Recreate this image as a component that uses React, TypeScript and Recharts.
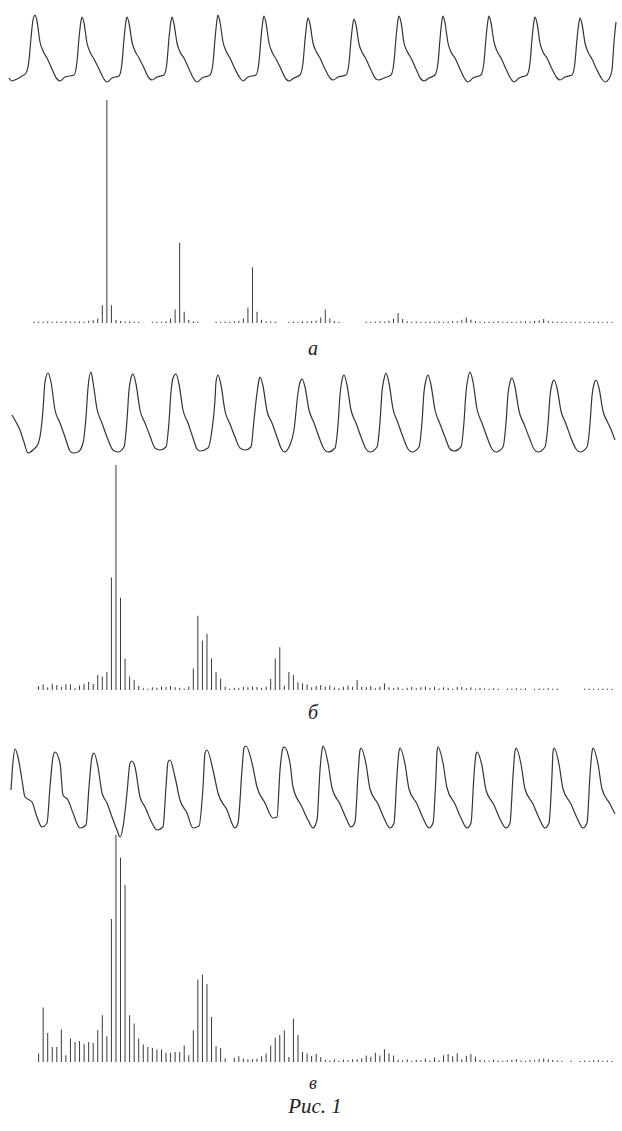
import React from "react";
import { LineChart, Line, BarChart, Bar, XAxis, YAxis } from "recharts";

// ---- Waveforms: [sample index, amplitude] ----
const waveA: [number, number][] = [
  [9,22],[12,19],[17,21],[22,24],[26,27],[29,40],[31,62],[33,80],
  [35,85],[37,79],[40,58],[43,49],[47,42],[52,31],[57,21],[60,19],[65,23],[74,25],[77,38],[79,62],[81,79],
  [82,83],[84,77],[87,57],[90,48],[94,41],[99,31],[104,21],[107,18],[112,22],[119,24],[122,37],[124,61],[126,79],
  [127,83],[129,77],[132,58],[135,49],[139,42],[144,32],[149,22],[152,20],[157,23],[164,25],[167,38],[169,62],[171,79],
  [172,83],[174,76],[177,57],[180,48],[184,42],[189,31],[194,21],[197,18],[202,22],[210,25],[213,37],[215,61],[217,80],
  [218,85],[220,78],[223,58],[226,49],[230,42],[235,31],[240,22],[243,19],[248,23],[256,25],[259,38],[261,62],[263,80],
  [264,84],[266,77],[269,57],[272,48],[276,41],[281,31],[286,21],[289,19],[294,22],[300,25],[303,37],[305,60],[307,78],
  [308,82],[310,76],[313,57],[316,49],[320,42],[325,31],[330,22],[333,20],[338,23],[346,25],[349,37],[351,60],[353,77],
  [354,81],[356,75],[359,56],[362,48],[366,41],[371,30],[376,21],[379,20],[384,22],[391,25],[394,38],[396,62],[398,80],
  [399,84],[401,78],[404,57],[407,49],[411,42],[416,31],[421,21],[424,19],[429,22],[435,25],[438,37],[440,61],[442,80],
  [443,84],[445,77],[448,57],[451,48],[455,42],[460,31],[465,21],[468,18],[473,22],[481,25],[484,38],[486,62],[488,80],
  [489,84],[491,77],[494,58],[497,49],[501,42],[506,31],[511,21],[514,18],[519,22],[527,25],[530,37],[532,61],[534,79],
  [535,83],[537,77],[540,57],[543,48],[547,42],[552,31],[557,22],[560,20],[565,23],[572,25],[575,38],[577,61],[579,78],
  [580,82],[582,76],[585,57],[588,48],[592,41],[597,30],[602,21],[605,18],[609,21],[612,30],[614,58],[616,78],
];

const waveB: [number, number][] = [
  [12,45],[16,38],[20,30],[24,18],[28,7],[33,10],[38,16],[41,30],[43,50],[45,78],
  [48,87],[51,78],[55,50],[60,37],[65,23],[70,9],[73,7],[78,8],[83,17],[86,43],[88,72],
  [91,88],[93,78],[97,51],[102,37],[107,23],[113,10],[118,8],[124,13],[127,40],[129,70],[131,82],
  [133,86],[136,76],[140,50],[145,37],[150,24],[155,12],[160,10],[166,13],[169,38],[171,68],[173,82],
  [176,86],[179,76],[183,50],[188,37],[193,22],[197,11],[200,9],[208,12],[212,30],[215,60],[216,78],
  [218,85],[221,75],[225,49],[230,36],[235,23],[240,12],[245,10],[251,13],[254,40],[257,67],[259,80],
  [260,83],[263,74],[267,49],[272,37],[277,23],[281,12],[284,8],[290,15],[294,30],[298,67],[300,78],
  [302,81],[305,73],[309,50],[314,37],[319,23],[324,11],[328,8],[335,12],[338,35],[340,65],[342,80],
  [344,85],[347,75],[351,50],[356,37],[361,23],[366,11],[370,8],[377,13],[380,38],[382,68],[384,81],
  [386,87],[389,77],[393,51],[398,37],[403,23],[408,11],[412,8],[419,13],[422,38],[424,68],[426,80],
  [428,85],[431,75],[435,50],[440,36],[445,23],[450,11],[454,9],[461,13],[464,38],[466,68],[468,82],
  [470,88],[473,78],[477,51],[482,37],[487,23],[492,11],[496,8],[503,13],[506,37],[508,66],[510,78],
  [512,82],[515,73],[519,49],[524,36],[529,23],[534,11],[538,8],[545,13],[548,36],[550,64],[552,76],
  [554,80],[557,72],[561,49],[566,36],[571,22],[576,11],[580,8],[587,13],[590,36],[592,64],[594,76],
  [596,80],[599,72],[603,49],[608,37],[612,28],[615,20],
];

const waveC: [number, number][] = [
  [11,50],[13,78],[15,91],[18,83],[22,60],[25,43],[32,38],[37,23],[42,13],[47,17],[50,53],[53,83],
  [55,88],[60,77],[63,45],[68,40],[73,27],[80,12],[86,15],[89,53],[92,83],
  [94,87],[98,73],[102,47],[107,37],[112,23],[117,10],[120,3],[123,13],[127,47],[130,77],
  [132,79],[135,73],[140,43],[145,33],[152,17],[157,10],[163,13],[166,53],[168,78],
  [170,80],[175,63],[180,40],[187,27],[193,12],[199,14],[203,53],[205,87],
  [207,90],[213,70],[218,47],[227,30],[235,12],[238,17],[242,70],[244,92],
  [246,94],[252,77],[257,53],[265,37],[273,22],[277,23],[280,70],[283,92],
  [284,93],[290,77],[293,53],[302,33],[308,20],[313,12],[317,20],[320,70],[322,90],
  [323,94],[328,77],[332,52],[340,36],[346,22],[351,13],[355,18],[358,65],[360,90],
  [361,92],[366,76],[370,51],[378,36],[384,22],[390,12],[394,17],[397,65],[399,89],
  [400,92],[405,76],[409,51],[417,36],[423,22],[429,12],[433,17],[436,65],[437,88],
  [438,93],[443,77],[447,52],[455,36],[461,22],[467,12],[471,17],[474,65],[476,86],
  [477,88],[482,74],[486,50],[494,35],[500,21],[506,12],[510,17],[513,64],[515,89],
  [516,92],[521,76],[525,51],[533,36],[539,22],[545,12],[549,17],[552,65],[553,88],
  [554,92],[559,76],[563,51],[571,36],[577,22],[583,12],[587,17],[590,65],[592,88],
  [593,92],[598,76],[602,51],[610,36],[615,26],
];

// ---- Spectra: relative amplitude per frequency bin (max = 100) ----
const specA = [
  0,0.6,0.7,0.6,0.8,0.6,0.7,0.6,0.9,0.6,
  0.7,0.8,0.6,1.0,1.2,2.0,8,100,8,1.3,
  0.9,0.7,0.8,0.6,0.6,0,0,0.6,0.7,0.6,
  0.8,2,6,36,5,1.5,0.8,0.6,0,0,
  0,0.6,0.6,0.7,0.6,0.8,1.0,2,7,25,
  5,1.5,0.8,0.7,0.6,0,0,0.6,0.7,0.6,
  0.8,0.7,0.9,1.0,2.5,6,2,0.9,0.6,0,
  0,0,0,0,0.6,0.6,0.7,0.8,0.6,1.0,
  2,4.5,1.8,0.8,0.6,0.7,0.6,0.6,0.7,0.6,
  0.8,0.6,0.7,0.9,0.8,1.5,2.5,1.5,0.8,0.6,
  0.6,0.7,0.6,0.8,0.6,0.7,0.6,0.6,0.7,0.8,
  0.6,0.9,1.2,1.8,1.0,0.7,0.6,0.6,0.5,0.6,
  0.5,0.6,0.5,0.6,0.5,0.6,0.5,0.6,0.5,
];

const specB = [
  0,0,1.8,2.5,1.2,2.8,2.2,1.5,2.6,2.4,
  0.8,2.0,2.8,3.7,2.7,6.7,6,8,50,100,
  41,14,6,4.4,1.8,0.8,0.6,1.2,1.0,1.6,
  1.3,1.8,1.2,1.0,0.6,1.5,9.6,33,22,25,
  14,8,5,1.5,0.6,1.0,0.8,1.4,1.2,1.6,
  1.3,1.0,1.5,5,14,19,2,8,6.7,3.5,
  3,2.5,1.2,1.8,2.2,1.5,2.0,1.2,0.8,1.5,
  2.0,1.4,4.5,1.5,1.2,1.8,0.8,1.5,3.0,1.2,
  0.8,1.2,0.6,1.0,1.4,0.8,1.2,1.6,1.0,1.4,
  0.7,1.2,1.0,0.6,1.3,1.5,0.8,1.2,0.6,1.0,
  0.7,0.6,0.8,0.6,0,0.7,0.6,0.8,0.6,0.7,
  0,0.6,0.7,0.6,0.8,0.6,0.6,0,0,0,
  0,0,0.6,0.7,0.6,0.6,0.7,0.6,0.6,
];

const specC = [
  0,0,3.7,24,12.8,6.6,6.6,14.3,3,10.3,
  8.8,9.3,8,8.8,8.4,14,20.6,11.3,63,100,
  90,78,20.6,17,10.3,7.7,6.6,6.3,5.5,5.5,
  4.1,4.1,4.4,4.4,7.3,3,14,36.3,38.5,34.2,
  19.8,6.9,6.2,1.5,0,1.9,2.5,1.5,1.2,1.2,
  1.5,2.5,3.7,7.3,10.7,11.9,14,2.2,19,11.9,
  4.4,3.7,2.6,3.5,2.2,1.0,0.8,1.2,0.6,1.0,
  0.8,1.2,1.2,1.5,2.9,2.3,4.1,2.9,5.6,3.8,
  2.9,1.0,0.8,1.2,0.6,1.0,0.8,1.5,0.7,2.0,
  0.8,3.0,3.5,2.5,3.8,1.2,2.8,3.5,2.4,1.0,
  0.8,0.6,1.0,0.7,0.6,0.8,1.0,1.2,0.7,0.6,
  1.0,0.8,1.3,1.5,1.2,1.0,0.7,0.6,0,0.5,
  0,0.6,0.7,0.6,0.8,1.0,0.6,0.7,0.6,
];

const panelLabels = ["а", "б", "в"];
const caption = "Рис. 1";

const toWave = (w: [number, number][]) => w.map(([t, v]) => ({ t, v }));
const toSpec = (s: number[]) => s.map((v, i) => ({ bin: i, v }));

const INK = "#333333";
const M = { top: 0, right: 0, bottom: 0, left: 0 };

function Wave({ data, top, height, ymax }: { data: any[]; top: number; height: number; ymax: number }) {
  return (
    <div style={{ position: "absolute", left: 0, top, width: 622, height }}>
      <LineChart width={622} height={height} data={data} margin={M}>
        <XAxis type="number" dataKey="t" domain={[0, 622]} hide />
        <YAxis type="number" domain={[0, ymax]} hide />
        <Line type="monotone" dataKey="v" stroke={INK} strokeWidth={1.2} dot={false} activeDot={false} isAnimationActive={false} />
      </LineChart>
    </div>
  );
}

function Spectrum({ data, top, height }: { data: any[]; top: number; height: number }) {
  return (
    <div style={{ position: "absolute", left: 27, top, width: 587, height }}>
      <BarChart width={587} height={height} data={data} margin={M} barCategoryGap={0}>
        <XAxis dataKey="bin" hide />
        <YAxis type="number" domain={[0, 100]} hide />
        <Bar dataKey="v" fill="#3a3a3a" barSize={1} isAnimationActive={false} />
      </BarChart>
    </div>
  );
}

export default function App() {
  const font = "'Liberation Serif', 'Times New Roman', serif";
  return (
    <div style={{ position: "absolute", left: 0, top: 0, width: 622, height: 1131, background: "#fff", overflow: "hidden" }}>
      <Wave data={toWave(waveA)} top={0} height={100} ymax={100} />
      <Spectrum data={toSpec(specA)} top={100} height={223} />
      <Wave data={toWave(waveB)} top={350} height={110} ymax={110} />
      <Spectrum data={toSpec(specB)} top={465} height={225} />
      <Wave data={toWave(waveC)} top={730} height={110} ymax={110} />
      <Spectrum data={toSpec(specC)} top={835} height={227} />
      <svg width={622} height={1131} style={{ position: "absolute", left: 0, top: 0, pointerEvents: "none" }}>
        <text x={313} y={355} fontFamily={font} fontStyle="italic" fontSize={20} textAnchor="middle" fill="#222">{panelLabels[0]}</text>
        <text x={313} y={719} fontFamily={font} fontStyle="italic" fontSize={20} textAnchor="middle" fill="#222">{panelLabels[1]}</text>
        <text x={313} y={1089} fontFamily={font} fontStyle="italic" fontSize={18} textAnchor="middle" fill="#222">{panelLabels[2]}</text>
        <text x={315} y={1113} fontFamily={font} fontStyle="italic" fontSize={21} textAnchor="middle" fill="#222">{caption}</text>
      </svg>
    </div>
  );
}
